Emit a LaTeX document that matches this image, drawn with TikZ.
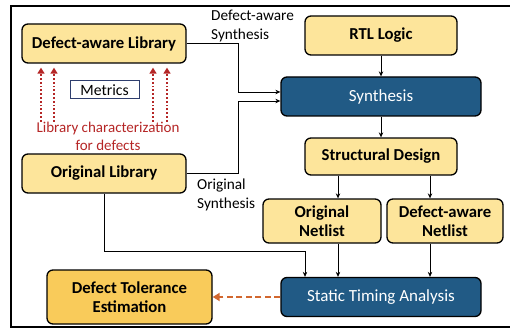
\documentclass[tikz,border=0pt]{standalone}
\usepackage{fontspec}
\setmainfont{Carlito}
\usetikzlibrary{arrows.meta}
\definecolor{paleyel}{HTML}{FDE59B}
\definecolor{deepyel}{HTML}{F9CB5A}
\definecolor{stablue}{HTML}{215A85}
\definecolor{charred}{HTML}{B52626}
\definecolor{estorange}{HTML}{D2672E}
\definecolor{metnavy}{HTML}{2F3E6E}

\begin{document}
\begin{tikzpicture}[x=1pt,y=-1pt,>={Stealth[length=5pt,width=4.5pt]},
  blk/.style={draw,line width=1.3pt,rounded corners=6pt,fill=paleyel,align=center,inner sep=0pt,font=\fontsize{16.7}{19}\selectfont\bfseries},
  bluebox/.style={blk,fill=stablue,text=white,font=\fontsize{17}{19}\selectfont},
  lbl/.style={anchor=west,align=left,inner sep=0pt,font=\fontsize{15.3}{19}\selectfont}]
\useasboundingbox (0,0) rectangle (510,331);
\draw[line width=1.8pt] (11,6) rectangle (530,327);
% libraries
\node[blk,minimum width=164,minimum height=39] (deflib) at (104,43.5) {Defect-aware Library};
\node[blk,minimum width=164,minimum height=39] (origlib) at (104,173.5) {Original Library};
\node[draw=metnavy,line width=1pt,minimum width=69,minimum height=18,inner sep=0pt,font=\fontsize{15.7}{16}\selectfont] (metrics) at (104.5,90) {Metrics};
\node[text=charred,align=center,inner sep=0pt,font=\fontsize{15}{18}\selectfont] (chartxt) at (108,136) {Library characterization\\for defects};
\foreach \dx in {-63,-50,49,63}
  \draw[charred,line width=1.8pt,dotted,-{Triangle[length=6pt,width=7pt]}] ([xshift=\dx pt]deflib.south |- chartxt.north) -- ([xshift=\dx pt,yshift=-4pt]deflib.south);
% flow
\node[blk,minimum width=152,minimum height=39] (rtl) at (381,35.5) {RTL Logic};
\node[bluebox,minimum width=200,minimum height=39] (synth) at (381,96.5) {Synthesis};
\node[blk,minimum width=152,minimum height=37] (struct) at (381,156.5) {Structural Design};
\node[blk,minimum width=118,minimum height=44] (orignet) at (322,221) {Original\\Netlist};
\node[blk,minimum width=116,minimum height=44] (defnet) at (445,221) {Defect-aware\\Netlist};
\node[bluebox,minimum width=200,minimum height=39] (sta) at (381,297) {Static Timing Analysis};
\node[blk,fill=deepyel,minimum width=165,minimum height=54] (dte) at (129.5,297) {Defect Tolerance\\Estimation};
\node[lbl] (dslbl) at (211,26) {Defect-aware\\Synthesis};
\node[lbl] (oslbl) at (197,194.5) {Original\\Synthesis};
\coordinate (jd) at (238.5,0);
\coordinate (ca) at (338,0);
\coordinate (cb) at (430,0);
\coordinate (cl) at (305,251);
\begin{scope}[line width=0.9pt]
\draw[->] (deflib.east) -- (deflib.east -| jd) |- ([yshift=4.5pt]synth.west);
\draw[->] (origlib.east) -- (origlib.east -| jd) |- ([yshift=-4.5pt]synth.west);
\draw[->] (rtl) -- (synth);
\draw[->] (synth) -- (struct);
\draw[->] (struct.south -| ca) -- (orignet.north -| ca);
\draw[->] (struct.south -| cb) -- (defnet.north -| cb);
\draw[->] (orignet.south -| ca) -- (sta.north -| ca);
\draw[->] (defnet.south -| cb) -- (sta.north -| cb);
\draw[->] (origlib.south) |- (cl) -- (sta.north -| cl);
\end{scope}
\draw[estorange,line width=2pt,dash pattern=on 6pt off 3.5pt,-{Triangle[length=7pt,width=8pt]}] (sta.west) -- (dte.east);
\end{tikzpicture}
\end{document}
